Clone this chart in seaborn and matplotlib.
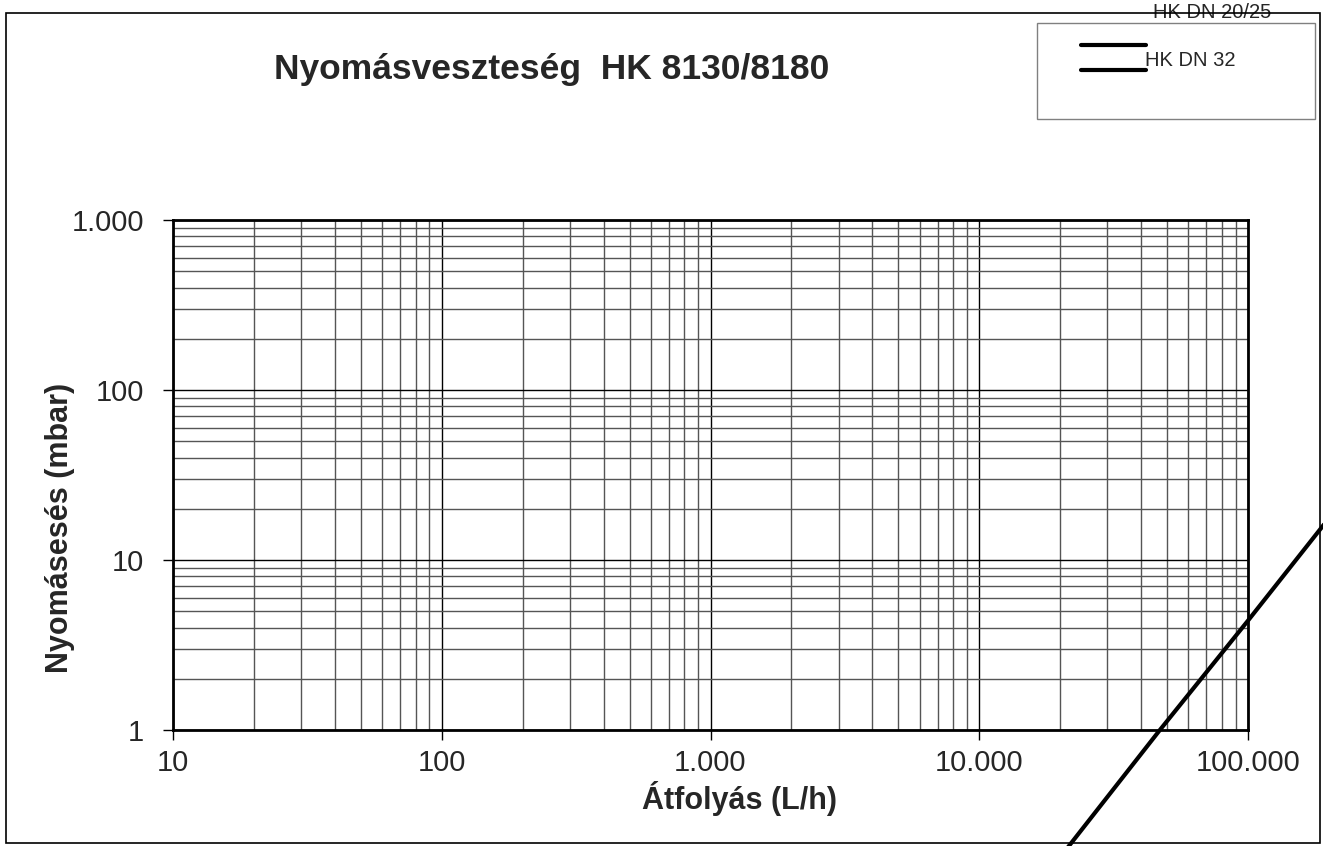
import numpy as np
import pandas as pd
import matplotlib.pyplot as plt
import matplotlib.ticker as mtick
from matplotlib.lines import Line2D
from matplotlib.patches import Rectangle
import seaborn as sns

sns.set_style('white')
plt.rcParams['font.family'] = ['Liberation Sans', 'DejaVu Sans']

# adatok
atfolyas = [15000, 47000, 100000, 250000]   # L/h
nyomases = [0.1, 1.0, 4.4, 27.5]            # mbar
x_ticks = [10, 100, 1000, 10000, 100000]
y_ticks = [1, 10, 100, 1000]
sorozatok = ['HK DN 20/25', 'HK DN 32']

df = pd.DataFrame({'Q': atfolyas, 'dp': nyomases})

W, H = 1323, 846
fig = plt.figure(figsize=(W / 100, H / 100), dpi=100)
ax = fig.add_axes([173 / W, 1 - 730 / H, 1075 / W, 510 / H])
ax.set_xscale('log')
ax.set_yscale('log')
ax.set_xlim(10, 100000)
ax.set_ylim(1, 1000)

sns.lineplot(data=df, x='Q', y='dp', ax=ax, color='black', lw=3,
             clip_on=False, estimator=None, sort=False, zorder=5)

# rács
ax.xaxis.set_minor_locator(mtick.LogLocator(base=10, subs=range(2, 10)))
ax.yaxis.set_minor_locator(mtick.LogLocator(base=10, subs=range(2, 10)))
ax.xaxis.set_minor_formatter(mtick.NullFormatter())
ax.yaxis.set_minor_formatter(mtick.NullFormatter())
ax.grid(True, which='major', color='black', lw=1)
ax.grid(True, which='minor', color='#555555', lw=1)

fmt = mtick.FuncFormatter(lambda v, p: f'{v:,.0f}'.replace(',', '.'))
ax.set_xticks(x_ticks)
ax.set_yticks(y_ticks)
ax.xaxis.set_major_formatter(fmt)
ax.yaxis.set_major_formatter(fmt)
ax.tick_params(which='major', bottom=True, left=True, direction='out',
               length=7, width=1, color='black', labelsize=21)
ax.tick_params(axis='x', which='major', pad=7)
ax.tick_params(axis='y', which='major', pad=14)
ax.tick_params(which='minor', length=0)
for s in ax.spines.values():
    s.set_color('black')
    s.set_linewidth(2)

ax.set_xlabel('Átfolyás (L/h)', fontsize=22, fontweight='bold')
ax.set_ylabel('Nyomásesés (mbar)', fontsize=22, fontweight='bold')
ax.xaxis.set_label_coords(0.527, -0.10)
ax.yaxis.set_label_coords(-0.091, 0.396)

fig.text(552 / W, 1 - 70 / H, 'Nyomásveszteség  HK 8130/8180', ha='center',
         va='center', fontsize=25.5, fontweight='bold')

# jelmagyarázat (kézzel)
fig.add_artist(Rectangle((1037 / W, 1 - 119 / H), 278 / W, 96 / H,
                         transform=fig.transFigure, fill=False,
                         ec='#808080', lw=1))
for yy in [45.5, 70]:
    fig.add_artist(Line2D([1081 / W, 1146 / W], [1 - yy / H] * 2,
                          transform=fig.transFigure, color='black', lw=3))
fig.text(1153 / W, 1 - 12.5 / H, sorozatok[0], ha='left', va='center', fontsize=14.5)
fig.text(1145 / W, 1 - 60 / H, sorozatok[1], ha='left', va='center', fontsize=14.5)

# keret
fig.add_artist(Rectangle((6 / W, 3 / H), 1314 / W, 830 / H,
                         transform=fig.transFigure, fill=False,
                         ec='black', lw=1.2, zorder=10))

fig.savefig('out.png', dpi=100)
